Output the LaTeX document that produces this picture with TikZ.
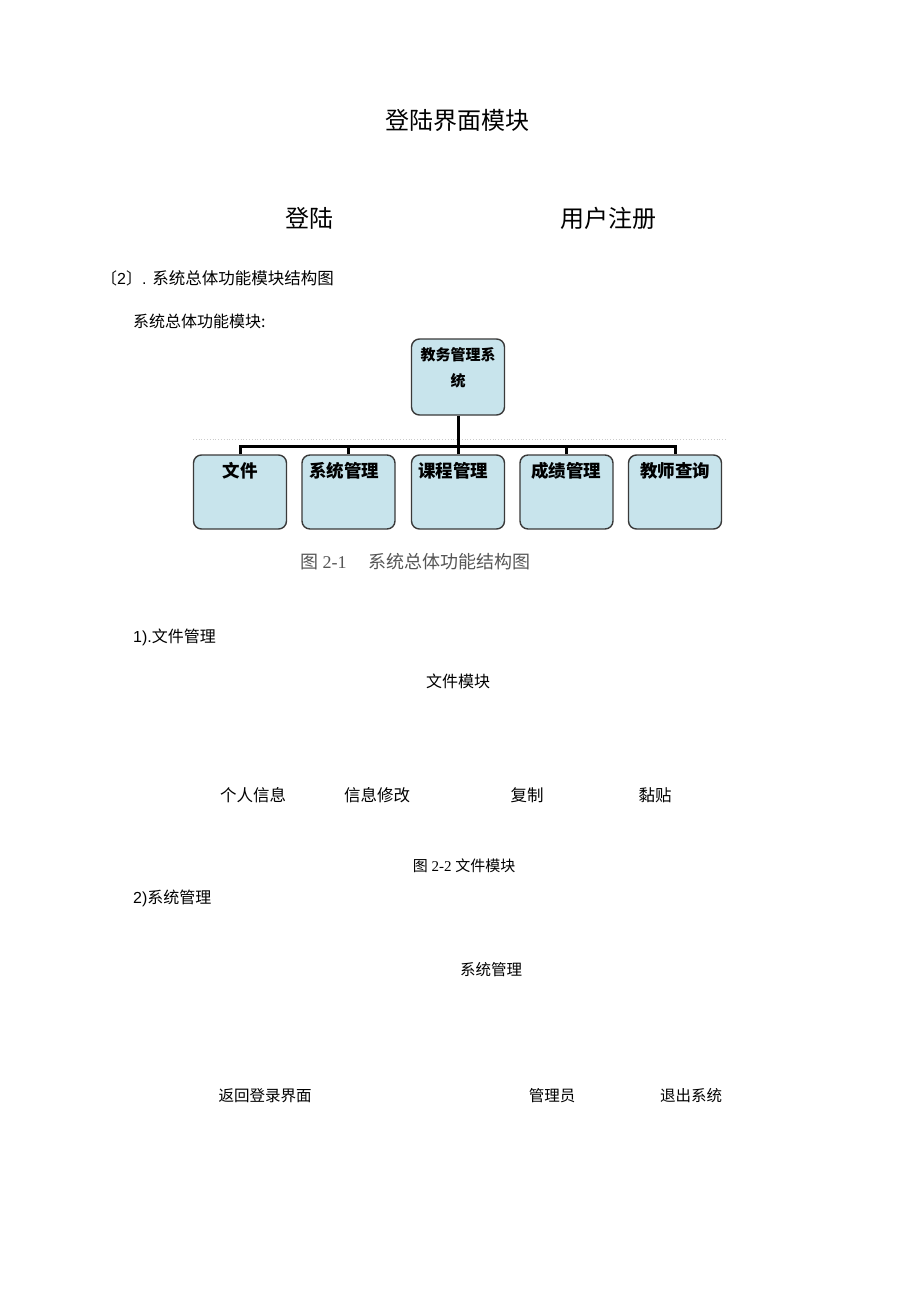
\documentclass[tikz,border=0pt]{standalone}
\usepackage{fontspec}
\setmainfont{Liberation Serif}
\newfontfamily\cjk{Noto Sans CJK SC}
\newfontfamily\lsans{Liberation Sans}
\definecolor{boxfill}{HTML}{C8E4EC}
\definecolor{boxline}{HTML}{3A3A3A}
\definecolor{capgrey}{HTML}{555555}
\begin{document}
\begin{tikzpicture}[x=1pt,y=-1pt,
  txt/.style={inner sep=0pt,font=\cjk},
  fbox/.style={draw=boxline,line width=1.4pt,fill=boxfill,rounded corners=8pt,minimum width=93pt,minimum height=74pt,inner sep=0pt},
  blabel/.style={inner sep=0pt,font=\cjk\bfseries\fontsize{17.5}{17}\selectfont},
  conn/.style={line width=3pt,black}]
\useasboundingbox (0,0) rectangle (920,1301);
\fill[white] (0,0) rectangle (920,1301);

% header
\node[txt,font=\cjk\fontsize{24}{24}\selectfont] (title) at (457,120) {登陆界面模块};
\node[txt,font=\cjk\fontsize{24}{24}\selectfont] (login) at (309,218) {登陆};
\node[txt,font=\cjk\fontsize{24}{24}\selectfont] (reg) at (608,218) {用户注册};
\node[txt,anchor=west,font=\lsans\fontsize{16}{16}\selectfont] (sec2) at (101,278) {{\cjk 〔}2{\cjk 〕}. {\cjk\fontsize{16.5}{16}\selectfont 系统总体功能模块结构图}};
\node[txt,anchor=west,font=\cjk\fontsize{16}{16}\selectfont] (sub) at (133,321) {系统总体功能模块:};

% chart
\draw[gray!40,dotted,line width=0.8pt] (193,439) -- (726,439);
\node[fbox,minimum height=76pt] (top) at (458,377) {};
\node[inner sep=0pt,font=\cjk\bfseries\fontsize{15}{26}\selectfont,align=center,anchor=north] (toplbl) at (458,347) {教务管理系\\统};
\node[fbox] (b1) at (240,492) {};
\node[fbox] (b2) at (348.5,492) {};
\node[fbox] (b3) at (458,492) {};
\node[fbox] (b4) at (566.5,492) {};
\node[fbox] (b5) at (675,492) {};
\node[blabel] (l1) at (240,471) {文件};
\node[blabel] (l2) at (344,471) {系统管理};
\node[blabel] (l3) at (453,471) {课程管理};
\node[blabel] (l4) at (566,471) {成绩管理};
\node[blabel] (l5) at (675,471) {教师查询};
\coordinate (bus) at (458,446);
\draw[conn] (top.south) -- (bus);
\draw[conn] (b1.north) -- (b1.north |- bus) -- (b5.north |- bus) -- (b5.north);
\draw[conn] (b2.north) -- (b2.north |- bus);
\draw[conn] (b3.north) -- (b3.north |- bus);
\draw[conn] (b4.north) -- (b4.north |- bus);
\node[inner sep=0pt,anchor=west,text=capgrey,font=\fontsize{18}{18}\selectfont] (cap1) at (300,562) {{\cjk 图} 2-1\hspace{22pt}{\cjk 系统总体功能结构图}};

% file module
\node[txt,anchor=west,font=\lsans\fontsize{16}{16}\selectfont] (s1) at (133,637) {1).{\cjk 文件管理}};
\node[txt,font=\cjk\fontsize{16}{16}\selectfont] (fm) at (458,681) {文件模块};
\node[txt,font=\cjk\fontsize{16.5}{16}\selectfont] (f1) at (253,795) {个人信息};
\node[txt,font=\cjk\fontsize{16.5}{16}\selectfont] (f2) at (377,795) {信息修改};
\node[txt,font=\cjk\fontsize{16.5}{16}\selectfont] (f3) at (527,795) {复制};
\node[txt,font=\cjk\fontsize{16.5}{16}\selectfont] (f4) at (655,795) {黏贴};
\node[inner sep=0pt,font=\fontsize{15}{15}\selectfont] (cap2) at (464,866) {{\cjk 图} 2-2 {\cjk 文件模块}};

% system management
\node[txt,anchor=west,font=\lsans\fontsize{16}{16}\selectfont] (s2) at (133,898) {2){\cjk 系统管理}};
\node[txt,font=\cjk\fontsize{15.5}{16}\selectfont] (sm) at (491,970) {系统管理};
\node[txt,font=\cjk\fontsize{15.5}{16}\selectfont] (m1) at (265,1096) {返回登录界面};
\node[txt,font=\cjk\fontsize{15.5}{16}\selectfont] (m2) at (552,1096) {管理员};
\node[txt,font=\cjk\fontsize{15.5}{16}\selectfont] (m3) at (691,1096) {退出系统};
\end{tikzpicture}
\end{document}
